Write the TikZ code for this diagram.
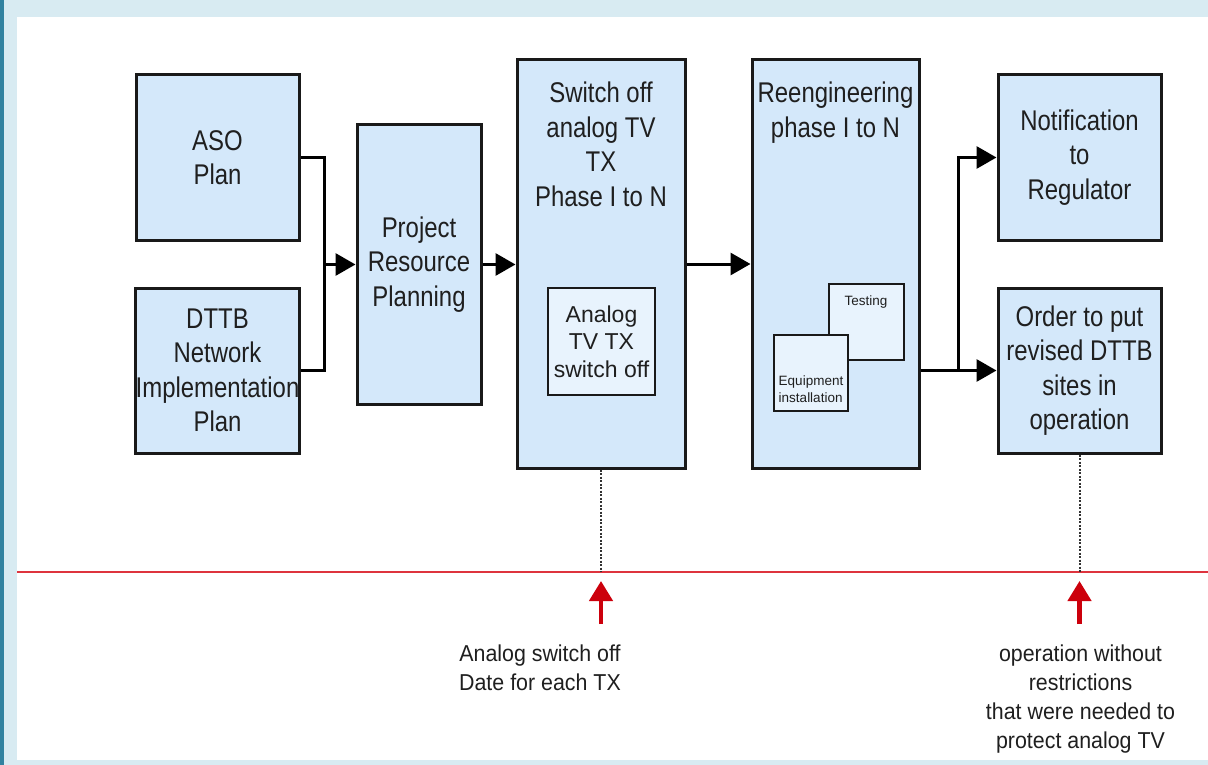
\documentclass[tikz,border=0pt]{standalone}
\usepackage{fontspec}
\setmainfont{Liberation Sans}
\newfontfamily\condA[FakeStretch=0.84]{Liberation Sans}
\newfontfamily\condB[FakeStretch=0.93]{Liberation Sans}
\usetikzlibrary{arrows.meta}
\definecolor{framebg}{RGB}{216,235,242}
\definecolor{frameedge}{RGB}{49,130,160}
\definecolor{boxfill}{RGB}{212,232,250}
\definecolor{innerfill}{RGB}{232,243,253}
\definecolor{linered}{RGB}{222,52,62}
\definecolor{arrowred}{RGB}{204,0,12}
\tikzset{
  box/.style={draw=black!90, line width=3pt, fill=boxfill, inner sep=0pt, align=center},
  innerbox/.style={draw=black!90, line width=2.6pt, fill=innerfill, inner sep=0pt, align=center},
  bigtxt/.style={font=\condA\fontsize{28.5}{34.5}\selectfont, text=black!88},
  midtxt/.style={font=\fontsize{23}{27.5}\selectfont, text=black!88},
  smalltxt/.style={font=\fontsize{13.5}{17}\selectfont, text=black!88},
  labtxt/.style={font=\condB\fontsize{23}{29}\selectfont, text=black!88, align=center},
  conn/.style={draw=black, line width=3pt},
  arr/.style={conn, -{Triangle[length=20pt,width=22pt]}},
  redarr/.style={draw=arrowred, line width=4.5pt, -{Triangle[length=20pt,width=23pt]}},
  dots/.style={draw=black!80, line width=2pt, dash pattern=on 2pt off 1.5pt}
}
\begin{document}
\begin{tikzpicture}[x=1pt,y=-1pt]
\useasboundingbox (0,0) rectangle (1208,765);
\fill[framebg] (0,0) rectangle (1208,765);
\fill[white] (17,17) rectangle (1208,760);
\fill[frameedge] (0,0) rectangle (4,765);

% boxes
\node[box, bigtxt, minimum width=163, minimum height=165] (aso) at (217.5,157.5) {ASO\\Plan};
\node[box, bigtxt, minimum width=163, minimum height=165] (dttb) at (217.5,370.5) {DTTB\\Network\\Implementation\\Plan};
\node[box, bigtxt, minimum width=124, minimum height=279] (prp) at (419,264.5) {Project\\Resource\\Planning};
\node[box, minimum width=168, minimum height=408] (sw) at (601,264) {};
\node[bigtxt, align=center, anchor=north, inner sep=0pt] (swt) at (601,82) {Switch off\\analog TV\\TX\\Phase I to N};
\node[innerbox, midtxt, minimum width=107, minimum height=107] (an) at (601.5,341.5) {Analog\\TV TX\\switch off};
\node[box, minimum width=167, minimum height=408] (re) at (835.5,264) {};
\node[bigtxt, align=center, anchor=north, inner sep=0pt] (ret) at (835.5,82) {Reengineering\\phase I to N};
\node[innerbox, minimum width=75, minimum height=76] (test) at (866.5,322) {};
\node[smalltxt, inner sep=0pt] (testt) at (866,302) {Testing};
\node[innerbox, minimum width=74, minimum height=76] (eq) at (811,373) {};
\node[smalltxt, align=left, inner sep=0pt] (eqt) at (811,389) {Equipment\\installation};
\node[box, bigtxt, minimum width=163, minimum height=165] (notif) at (1079.5,157.5) {Notification\\to\\Regulator};
\node[box, bigtxt, minimum width=163, minimum height=165] (ord) at (1079.5,370.5) {Order to put\\revised DTTB\\sites in\\operation};

% connectors
\coordinate (j) at (324,264.5);
\draw[conn] (aso.east) -| (j) |- (dttb.east);
\draw[arr] (j) -- (prp.west);
\draw[arr] (prp.east) -- (sw.west |- prp.east);
\draw[arr] (sw.east) -- (re.west);
\draw[arr] (re.east |- ord.west) -- (ord.west);
\coordinate (b) at (958,370.5);
\draw[arr] (b) |- (notif.west);

% time line
\coordinate (l0) at (17,572);
\coordinate (l1) at (1208,572);
\draw[linered, line width=2.2pt] (l0) -- (l1);
\coordinate (m1) at (601,572);
\coordinate (m2) at (1079.5,572);
\draw[dots] (sw.south) -- (m1);
\draw[dots] (ord.south) -- (m2);
\coordinate (a1s) at (601,624);
\coordinate (a1e) at (601,581);
\coordinate (a2s) at (1079.5,624);
\coordinate (a2e) at (1079.5,581);
\draw[redarr] (a1s) -- (a1e);
\draw[redarr] (a2s) -- (a2e);

\node[labtxt, inner sep=0pt] (lab1) at (540,668) {Analog switch off\\Date for each TX};
\node[labtxt, inner sep=0pt] (lab2) at (1080.5,699) {operation without\\restrictions\\that were needed to\\protect analog TV};
\end{tikzpicture}
\end{document}
